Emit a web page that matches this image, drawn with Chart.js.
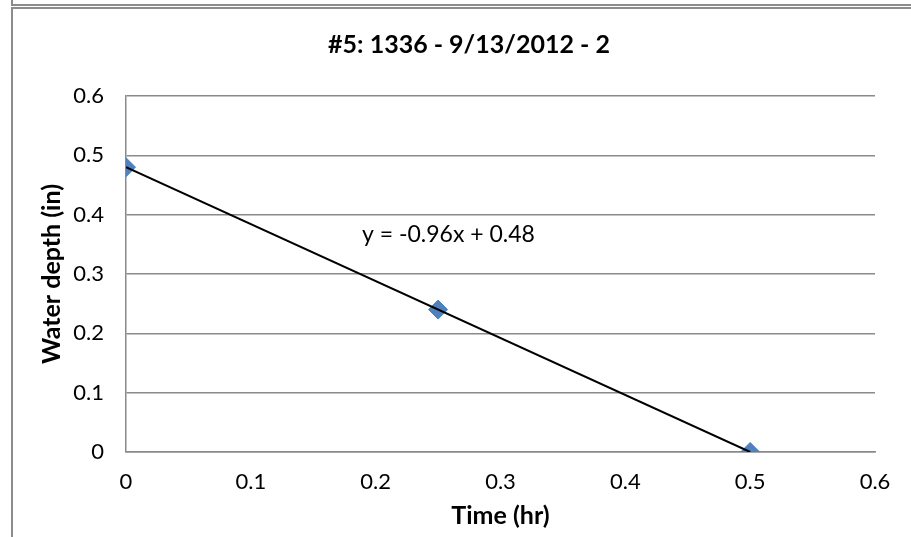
<!DOCTYPE html>
<html>
<head>
<meta charset="utf-8">
<script src="https://cdn.jsdelivr.net/npm/chart.js@4.4.1/dist/chart.umd.min.js"></script>
<style>
  html, body { margin: 0; padding: 0; background: #fff; }
  #wrap { width: 911px; height: 537px; }
</style>
</head>
<body>
<div id="wrap"><canvas id="chart" width="911" height="537"></canvas></div>
<script>
const timeHr = [0, 0.25, 0.5];
const depthIn = [0.48, 0.24, 0];
const trendX = [0, 0.5];
const trendY = [0.48, 0];
const xTicks = [0, 0.1, 0.2, 0.3, 0.4, 0.5, 0.6];
const yTicks = [0, 0.1, 0.2, 0.3, 0.4, 0.5, 0.6];
const chartTitle = '#5: 1336 - 9/13/2012 - 2';
const trendLabel = 'y = -0.96x + 0.48';

const FONT = 'Lato, "Open Sans", sans-serif';
const gridGray = '#8a8a8a';

// frame, title and trendline equation
const extras = {
  id: 'extras',
  beforeDraw(chart) {
    const ctx = chart.ctx;
    ctx.save();
    ctx.strokeStyle = '#8c8c8c';
    ctx.lineWidth = 2;
    ctx.beginPath();
    ctx.moveTo(12, 0); ctx.lineTo(12, 5); ctx.lineTo(911, 5);
    ctx.moveTo(911, 8); ctx.lineTo(12, 8); ctx.lineTo(12, 537);
    ctx.stroke();
    ctx.restore();
  },
  afterDraw(chart) {
    const ctx = chart.ctx;
    ctx.save();
    ctx.fillStyle = '#000';
    ctx.font = 'bold 25px ' + FONT;
    ctx.textAlign = 'center';
    ctx.textBaseline = 'middle';
    // the chart box runs past the right edge, so the title sits left of the plot centre
    ctx.fillText(chartTitle, 469, 45);

    const xs = chart.scales.x, ys = chart.scales.y;
    ctx.font = '23px ' + FONT;
    ctx.textAlign = 'left';
    ctx.fillText(trendLabel, xs.getPixelForValue(0.189), ys.getPixelForValue(0.366));
    ctx.restore();
  }
};

const ctx = document.getElementById('chart').getContext('2d');
new Chart(ctx, {
  type: 'scatter',
  data: {
    datasets: [
      {
        label: 'Linear',
        data: trendX.map((x, i) => ({ x: x, y: trendY[i] })),
        showLine: true,
        borderColor: '#000',
        borderWidth: 2,
        pointRadius: 0,
        fill: false
      },
      {
        label: 'Water depth',
        data: timeHr.map((x, i) => ({ x: x, y: depthIn[i] })),
        pointStyle: 'rectRot',
        pointRadius: 9.5,
        backgroundColor: '#4F81BD',
        borderColor: '#4A7EBB',
        borderWidth: 1
      }
    ]
  },
  options: {
    responsive: false,
    animation: false,
    layout: { padding: { left: 14, right: 36, top: 96, bottom: 0 } },
    plugins: {
      legend: { display: false },
      tooltip: { enabled: false },
      title: { display: false }
    },
    scales: {
      x: {
        type: 'linear',
        min: 0,
        max: 0.6,
        afterBuildTicks: s => { s.ticks = xTicks.map(v => ({ value: v })); },
        afterFit: s => { s.height = 537 - 452; },
        grid: { display: false, drawTicks: false },
        border: { display: true, color: gridGray, width: 1.5 },
        ticks: { color: '#000', font: { family: FONT, size: 22 }, padding: 17, maxRotation: 0,
                 callback: v => String(v) },
        title: { display: true, text: 'Time (hr)', color: '#000',
                 font: { family: FONT, size: 25, weight: 'bold' }, padding: { top: 0, bottom: 6 } }
      },
      y: {
        type: 'linear',
        min: 0,
        max: 0.6,
        afterBuildTicks: s => { s.ticks = yTicks.map(v => ({ value: v })); },
        afterFit: s => { s.width = 126 - 14; },
        grid: { color: gridGray, lineWidth: 1.5, drawTicks: false },
        border: { display: true, color: gridGray, width: 1.5 },
        ticks: { color: '#000', font: { family: FONT, size: 22 }, padding: 22,
                 callback: v => String(v) },
        title: { display: true, text: 'Water depth (in)', color: '#000',
                 font: { family: FONT, size: 25, weight: 'bold' }, padding: { top: 23, bottom: 0 } }
      }
    }
  },
  plugins: [extras]
});
</script>
</body>
</html>
